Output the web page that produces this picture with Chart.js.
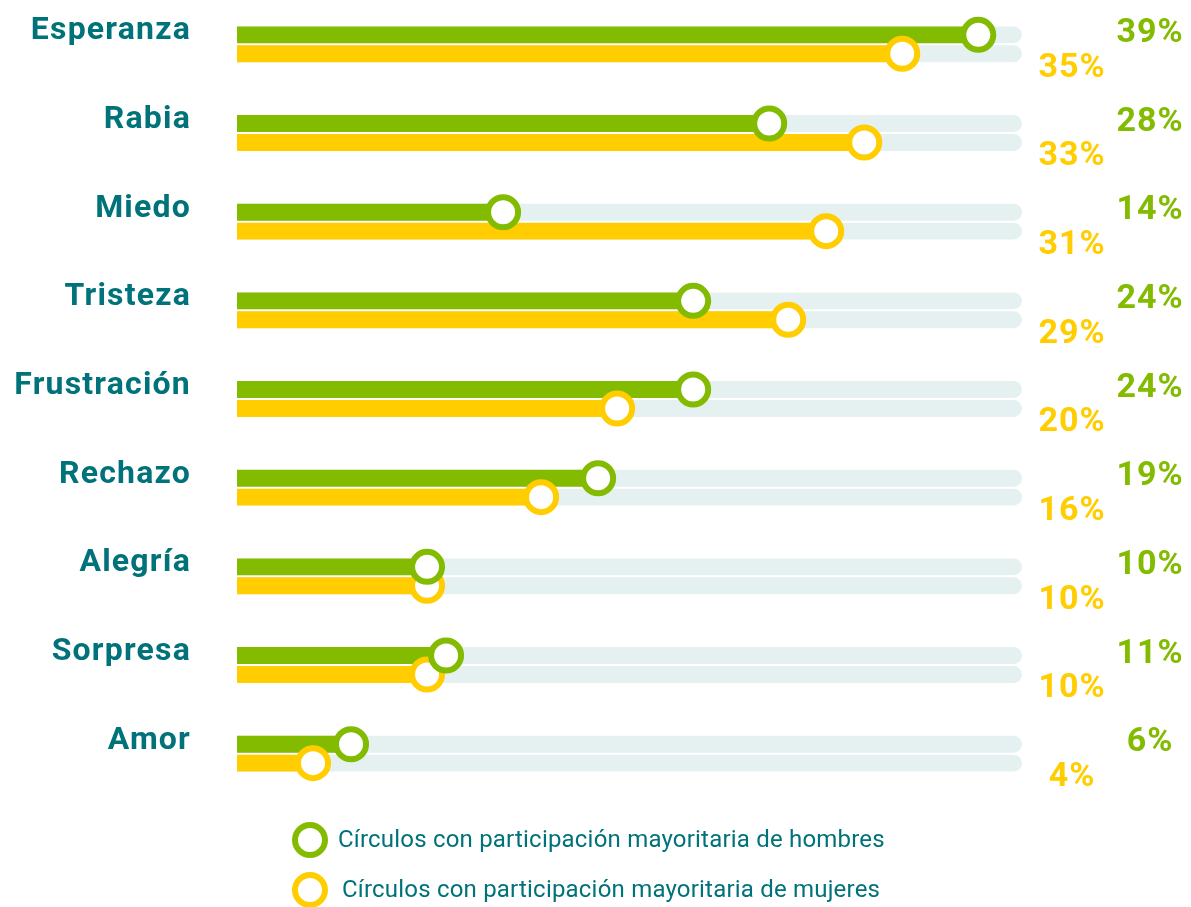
<!DOCTYPE html>
<html>
<head>
<meta charset="utf-8">
<script src="https://cdn.jsdelivr.net/npm/chart.js@4"></script>
<style>
  html, body { margin: 0; padding: 0; background: #fff; }
  #wrap { width: 1191px; height: 907px; }
</style>
</head>
<body>
<div id="wrap"><canvas id="emotionChart" width="1191" height="907"></canvas></div>
<script>
// Emotions by circle composition
const categories = ['Esperanza', 'Rabia', 'Miedo', 'Tristeza', 'Frustración', 'Rechazo', 'Alegría', 'Sorpresa', 'Amor'];
const menValues = [39, 28, 14, 24, 24, 19, 10, 11, 6];
const womenValues = [35, 33, 31, 29, 20, 16, 10, 10, 4];
const seriesNames = [
  'Círculos con participación mayoritaria de hombres',
  'Círculos con participación mayoritaria de mujeres'
];

const TEAL = '#00727a';
const GREEN = '#82bb00';
const YELLOW = '#ffcd00';
const TRACK = '#e5f1f1';
const FONT = 'Roboto, "DejaVu Sans", sans-serif';

function roundRight(ctx, x, y, w, h) {
  const r = h / 2;
  ctx.beginPath();
  ctx.moveTo(x, y);
  ctx.lineTo(x + w - r, y);
  ctx.arc(x + w - r, y + r, r, -Math.PI / 2, Math.PI / 2);
  ctx.lineTo(x, y + h);
  ctx.closePath();
  ctx.fill();
}

function ring(ctx, x, y, color) {
  ctx.beginPath();
  ctx.arc(x, y, 15, 0, Math.PI * 2);
  ctx.fillStyle = '#fff';
  ctx.fill();
  ctx.lineWidth = 6;
  ctx.strokeStyle = color;
  ctx.stroke();
}

// light tracks behind each bar, rings at bar ends, labels and legend
const decor = {
  id: 'decor',
  beforeDatasetsDraw(chart) {
    const { ctx, chartArea } = chart;
    ctx.save();
    ctx.fillStyle = TRACK;
    chart.data.datasets.forEach((ds, i) => {
      chart.getDatasetMeta(i).data.forEach(bar => {
        roundRight(ctx, bar.base, bar.y - bar.height / 2, chartArea.right - bar.base, bar.height);
      });
    });
    ctx.restore();
  },
  afterDatasetsDraw(chart) {
    const { ctx } = chart;
    const yScale = chart.scales.y;
    ctx.save();
    // yellow rings first so green sits on top where they meet
    [1, 0].forEach(i => {
      const ds = chart.data.datasets[i];
      chart.getDatasetMeta(i).data.forEach(bar => ring(ctx, bar.x, bar.y, ds.borderColor));
    });

    // category names on the left
    ctx.font = 'bold 32px ' + FONT;
    ctx.letterSpacing = '1.2px';
    ctx.textAlign = 'right';
    ctx.textBaseline = 'alphabetic';
    ctx.fillStyle = TEAL;
    chart.data.labels.forEach((lab, j) => {
      ctx.fillText(lab, 191, yScale.getPixelForTick(j) - 5);
    });

    // percentages on the right
    ctx.font = 'bold 34px ' + FONT;
    ctx.letterSpacing = '1px';
    ctx.textAlign = 'center';
    chart.getDatasetMeta(0).data.forEach((bar, j) => {
      ctx.fillStyle = GREEN;
      ctx.fillText(menValues[j] + '%', 1150, bar.y - 5 + 12);
    });
    chart.getDatasetMeta(1).data.forEach((bar, j) => {
      ctx.fillStyle = YELLOW;
      ctx.fillText(womenValues[j] + '%', 1072, bar.y + 11 + 12);
    });

    // legend
    ctx.font = '24px ' + FONT;
    ctx.letterSpacing = '0.2px';
    ctx.textAlign = 'left';
    ctx.textBaseline = 'middle';
    chart.data.datasets.forEach((ds, i) => {
      const y = 840 + i * 50;
      ring(ctx, 310, y, ds.borderColor);
      ctx.fillStyle = TEAL;
      ctx.fillText(ds.label, 338 + i * 4, y + 1);
    });
    ctx.restore();
  }
};

const ctx = document.getElementById('emotionChart').getContext('2d');
new Chart(ctx, {
  type: 'bar',
  data: {
    labels: categories,
    datasets: [
      { label: seriesNames[0], data: menValues, backgroundColor: GREEN, borderColor: GREEN },
      { label: seriesNames[1], data: womenValues, backgroundColor: YELLOW, borderColor: YELLOW }
    ]
  },
  options: {
    indexAxis: 'y',
    responsive: false,
    animation: false,
    categoryPercentage: 0.427,
    barPercentage: 0.895,
    layout: { padding: { left: 0, right: 169, top: -3, bottom: 109 } },
    scales: {
      x: { display: false, min: 0, max: 41.3 },
      y: {
        grid: { display: false, drawTicks: false },
        border: { display: false },
        afterFit: (scale) => { scale.width = 237; },
        ticks: { display: false }
      }
    },
    plugins: {
      legend: { display: false },
      tooltip: { enabled: false }
    }
  },
  plugins: [decor]
});
</script>
</body>
</html>
